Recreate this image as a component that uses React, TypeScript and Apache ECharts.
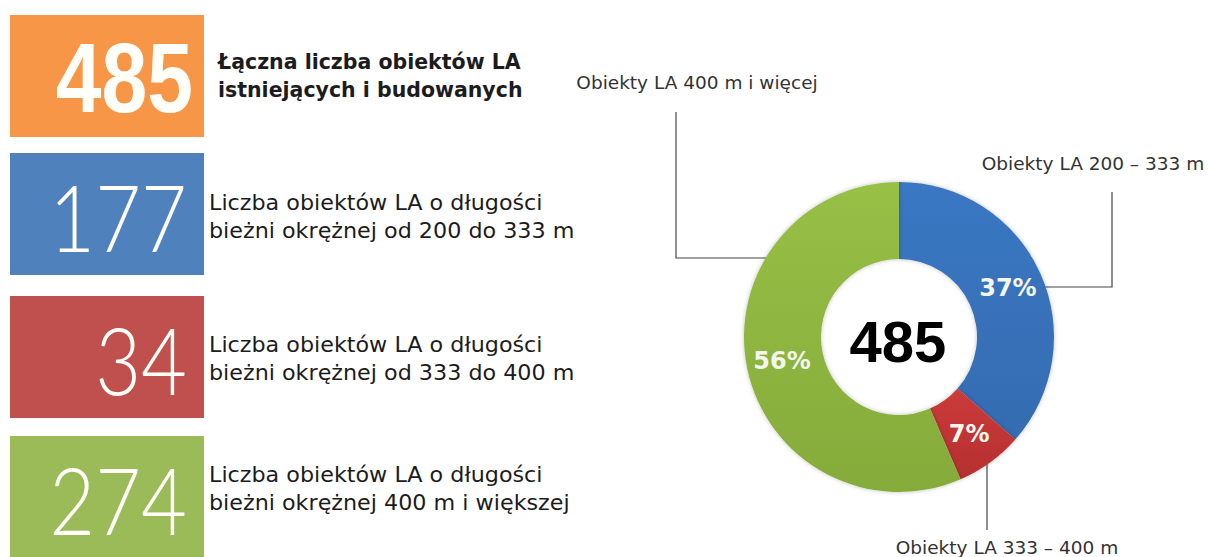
import React, { useEffect, useRef } from "react";
import * as echarts from "echarts";

const categories = ["Obiekty LA 200 – 333 m", "Obiekty LA 333 – 400 m", "Obiekty LA 400 m i więcej"];
const counts = [177, 34, 274];
const percentLabels = ["37%", "7%", "56%"];
const total = 485;
const totalTitle = ["Łączna liczba obiektów LA", "istniejących i budowanych"];
const descriptions = [
  ["Liczba obiektów LA o długości", "bieżni okrężnej od 200 do 333 m"],
  ["Liczba obiektów LA o długości", "bieżni okrężnej od 333 do 400 m"],
  ["Liczba obiektów LA o długości", "bieżni okrężnej 400 m i większej"],
];
const pieColors = ["#3A77C3", "#CC3B3B", "#97C046"];
const boxColors = ["#F79646", "#4F81BD", "#C0504D", "#9BBB59"];

export default function App() {
  const ref = useRef<HTMLDivElement>(null);
  useEffect(() => {
    if (!ref.current) return;
    const chart = echarts.init(ref.current, undefined, { renderer: "svg" });
    const cx = 899, cy = 337, rIn = 78, rOut = 155;
    const boxX = 10, boxW = 194, boxH = 122;
    const boxTops = [15, 153, 296, 436];
    const textCenters = [76, 217, 359, 489];
    const numbers = [total, ...counts];
    const textFont = "'DejaVu Sans', sans-serif";
    const graphics: any[] = [];
    numbers.forEach((n, i) => {
      const top = boxTops[i];
      graphics.push({
        type: "rect",
        shape: { x: boxX, y: top, width: boxW, height: boxH },
        style: { fill: boxColors[i] },
      });
      graphics.push({
        type: "text",
        x: i === 0 ? 193 : 187,
        y: top + boxH / 2 + 2,
        scaleX: i === 0 ? 0.84 : 0.86,
        style: {
          text: String(n),
          x: 0,
          y: 0,
          fill: "#FFFEF8",
          font: i === 0 ? `bold 98px 'Liberation Sans', sans-serif` : `300 92px Lato, sans-serif`,
          align: "right",
          verticalAlign: "middle",
          textAlign: "right",
          textVerticalAlign: "middle",
        },
      });
      const lines = i === 0 ? totalTitle : descriptions[i - 1];
      const tx = i === 0 ? 218 : 209;
      lines.forEach((line, j) => {
        graphics.push({
          type: "text",
          x: tx,
          y: textCenters[i] - 14 + j * 28,
          scaleX: i === 0 ? 1 : 1.06,
          style: {
            text: line,
            x: 0,
            y: 0,
            fill: "#1c1c1c",
            font: i === 0 ? `bold 20.5px ${textFont}` : `21px ${textFont}`,
            align: "left",
            verticalAlign: "middle",
            textAlign: "left",
            textVerticalAlign: "middle",
          },
        });
      });
    });

    // callouts (annotation lines around the donut)
    const edgeX = (dy: number, sign: number) => cx + sign * Math.sqrt(rOut * rOut - dy * dy);
    const edgeY = (dx: number) => cy + Math.sqrt(rOut * rOut - dx * dx);
    const calloutStroke = { stroke: "#444", lineWidth: 1.2, fill: null };
    graphics.push({
      type: "polyline",
      shape: { points: [[edgeX(287 - cy, 1) - 3, 287], [1112, 287], [1112, 192]] },
      style: calloutStroke,
    });
    graphics.push({
      type: "polyline",
      shape: { points: [[edgeX(258 - cy, -1) + 3, 258], [676, 258], [676, 112]] },
      style: calloutStroke,
    });
    graphics.push({
      type: "polyline",
      shape: { points: [[987, edgeY(987 - cx) - 3], [987, 530]] },
      style: calloutStroke,
    });
    const calloutText = (text: string, x: number, y: number) => ({
      type: "text",
      x,
      y,
      style: {
        text,
        x: 0,
        y: 0,
        fill: "#333",
        font: `18.5px ${textFont}`,
        align: "center",
        verticalAlign: "middle",
        textAlign: "center",
        textVerticalAlign: "middle",
      },
    });
    graphics.push(calloutText(categories[0], 1093, 163));
    graphics.push(calloutText(categories[1], 1007, 547));
    graphics.push(calloutText(categories[2], 697, 82));
    graphics.push({
      type: "text",
      x: cx - 1,
      y: cy + 4,
      style: {
        text: String(total),
        x: 0,
        y: 0,
        fill: "#000",
        font: "bold 58px 'Liberation Sans', Arial, sans-serif",
        align: "center",
        verticalAlign: "middle",
        textAlign: "center",
        textVerticalAlign: "middle",
      },
    });

    chart.setOption({
      animation: false,
      backgroundColor: "#ffffff",
      series: [
        {
          type: "pie",
          center: [cx, cy],
          radius: [rIn, rOut],
          startAngle: 90,
          clockwise: true,
          silent: true,
          data: categories.map((name, i) => ({
            name,
            value: counts[i],
            itemStyle: {
              color: new echarts.graphic.LinearGradient(0, 0, 0, 1, [
                { offset: 0, color: pieColors[i] },
                { offset: 1, color: echarts.color.modifyHSL(pieColors[i], undefined, undefined, 0.45) },
              ]),
            },
          })),
          itemStyle: { borderWidth: 0, shadowBlur: 4, shadowColor: "rgba(0,0,0,0.25)" },
          label: {
            show: true,
            position: "inside",
            formatter: (p: any) => percentLabels[p.dataIndex],
            color: "#F3F6EC",
            fontSize: 24,
            fontWeight: "bold",
            fontFamily: "'DejaVu Sans', sans-serif",
          },
          labelLine: { show: false },
        },
      ],
      graphic: graphics,
    });
    return () => chart.dispose();
  }, []);
  return (
    <div
      ref={ref}
      style={{ position: "fixed", left: 0, top: 0, width: 1209, height: 557 }}
    />
  );
}
